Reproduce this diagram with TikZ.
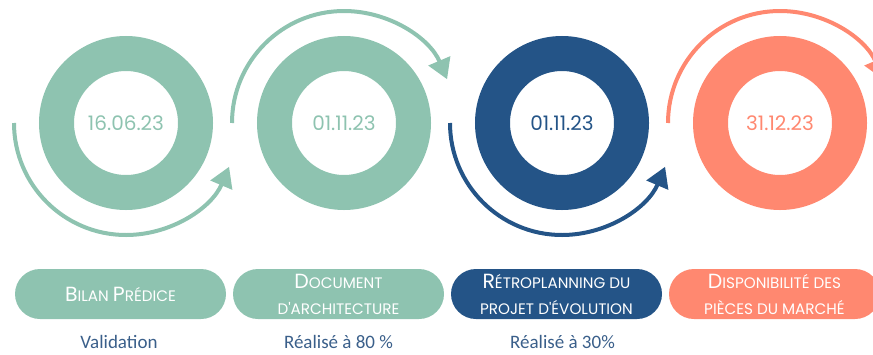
\documentclass[tikz,border=0pt]{standalone}
\usepackage{fontspec}
\setmainfont{Carlito}
\newfontfamily\roundfont{Poppins}
\usetikzlibrary{arrows.meta}
\definecolor{vert}{HTML}{8EC3B0}
\definecolor{bleu}{HTML}{245487}
\definecolor{saumon}{HTML}{FF8870}
\definecolor{texte}{HTML}{3A5F8A}
% petites capitales faites a la main
\newcommand\pc[2]{{\fontsize{20.5}{26}\selectfont #1}{\fontsize{15.2}{26}\selectfont #2}}

\begin{document}
\begin{tikzpicture}[x=1pt, y=1pt,
  ring/.style={draw=#1, line width=35pt, circle, minimum size=139pt, inner sep=0pt,
    text=#1, font=\roundfont\fontsize{20}{24}\selectfont},
  fleche/.style={draw=#1, line width=4pt, -{Triangle[length=20pt, width=23pt]}},
  etape/.style={fill=#1, text=white, rounded corners=25pt, minimum width=211pt,
    minimum height=50pt, align=center, font=\roundfont\fontsize{15.2}{26}\selectfont, inner sep=0pt},
  note/.style={text=texte, font=\fontsize{19}{22}\selectfont}]
\useasboundingbox (0,0) rectangle (873,-354);

% les anneaux
\node[ring=vert] (r1) at (126,-123) {16.06.23};
\node[ring=vert] (r2) at (344,-123) {01.11.23};
\node[ring=bleu] (r3) at (562,-123) {01.11.23};
\node[ring=saumon] (r4) at (780,-123) {31.12.23};

% les fleches autour
\draw[fleche=vert] ([shift={(180:112)}]r1.center) arc[start angle=180, end angle=337, radius=112];
\draw[fleche=vert] ([shift={(180:112)}]r2.center) arc[start angle=180, end angle=23, radius=112];
\draw[fleche=bleu] ([shift={(180:112)}]r3.center) arc[start angle=180, end angle=337, radius=112];
\draw[fleche=saumon] ([shift={(180:112)}]r4.center) arc[start angle=180, end angle=23, radius=112];

% les etapes
\node[etape=vert] (e1) at (120.5,-294) {\pc{B}{ILAN} \pc{P}{RÉDICE}};
\node[etape=vert] (e2) at (338.5,-294) {\pc{D}{OCUMENT}\\ \pc{}{D'ARCHITECTURE}};
\node[etape=bleu] (e3) at (556.5,-294) {\pc{R}{ÉTROPLANNING DU}\\ \pc{}{PROJET D'ÉVOLUTION}};
\node[etape=saumon] (e4) at (774.5,-294) {\pc{D}{ISPONIBILITÉ DES}\\ \pc{}{PIÈCES DU MARCHÉ}};

% les avancements
\node[note] (n1) at (119,-342) {Validation};
\node[note] (n2) at (338.5,-342) {Réalisé à 80 \%};
\node[note] (n3) at (562.5,-342) {Réalisé à 30\%};
\end{tikzpicture}
\end{document}
